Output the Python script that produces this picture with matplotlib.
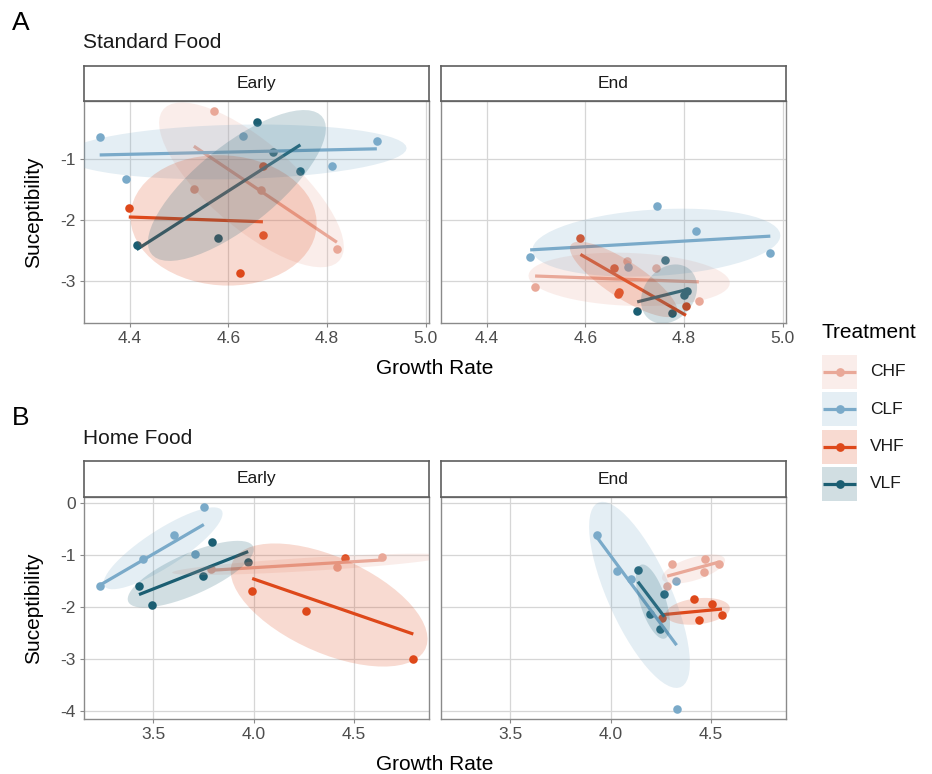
import numpy as np
import matplotlib
matplotlib.use("Agg")
import matplotlib.pyplot as plt
from matplotlib.patches import Polygon, Rectangle
from matplotlib.lines import Line2D

plt.rcParams["font.family"] = ["Liberation Sans", "DejaVu Sans"]
plt.rcParams["axes.unicode_minus"] = False

W, H = 932, 774

treatments = ["CHF", "CLF", "VHF", "VLF"]
palette = ["#E9A898", "#7AAAC9", "#DE481A", "#1B5E72"]

# Standard food, early sampling
std_early_x = {
    "CHF": [4.570, 4.530, 4.667, 4.820],
    "CLF": [4.339, 4.393, 4.629, 4.810, 4.901],
    "VHF": [4.398, 4.670, 4.623, 4.670],
    "VLF": [4.657, 4.691, 4.746, 4.414, 4.578],
}
std_early_y = {
    "CHF": [-0.22, -1.49, -1.52, -2.49],
    "CLF": [-0.65, -1.34, -0.63, -1.12, -0.71],
    "VHF": [-1.81, -2.25, -2.87, -1.12],
    "VLF": [-0.40, -0.89, -1.20, -2.41, -2.30],
}

# Standard food, end of experiment
std_end_x = {
    "CHF": [4.498, 4.684, 4.743, 4.830],
    "CLF": [4.488, 4.746, 4.825, 4.975, 4.686],
    "VHF": [4.590, 4.659, 4.669, 4.666, 4.804],
    "VLF": [4.761, 4.705, 4.775, 4.807, 4.800],
}
std_end_y = {
    "CHF": [-3.11, -2.68, -2.79, -3.34],
    "CLF": [-2.61, -1.78, -2.18, -2.55, -2.77],
    "VHF": [-2.30, -2.79, -3.18, -3.22, -3.41],
    "VLF": [-2.67, -3.50, -3.53, -3.17, -3.23],
}

# Home food, early sampling
home_early_x = {
    "CHF": [3.790, 4.414, 4.638],
    "CLF": [3.752, 3.603, 3.449, 3.708, 3.233],
    "VHF": [4.455, 3.993, 4.261, 4.796],
    "VLF": [3.794, 3.429, 3.492, 3.746, 3.973],
}
home_early_y = {
    "CHF": [-1.27, -1.24, -1.03],
    "CLF": [-0.08, -0.62, -1.08, -0.99, -1.59],
    "VHF": [-1.06, -1.70, -2.08, -3.01],
    "VLF": [-0.76, -1.59, -1.97, -1.40, -1.13],
}

# Home food, end of experiment
home_end_x = {
    "CHF": [4.307, 4.472, 4.467, 4.538, 4.282],
    "CLF": [3.930, 4.030, 4.103, 4.328, 4.329],
    "VHF": [4.414, 4.505, 4.555, 4.442, 4.255],
    "VLF": [4.136, 4.268, 4.195, 4.245],
}
home_end_y = {
    "CHF": [-1.18, -1.08, -1.33, -1.17, -1.59],
    "CLF": [-0.61, -1.30, -1.46, -1.51, -3.96],
    "VHF": [-1.84, -1.94, -2.16, -2.26, -2.22],
    "VLF": [-1.28, -1.76, -2.13, -2.42],
}

std_xticks = [4.4, 4.6, 4.8, 5.0]
std_yticks = [-1, -2, -3]
home_xticks = [3.5, 4.0, 4.5]
home_yticks = [0, -1, -2, -3, -4]

ELLIPSE_LEVEL = 0.55


def ellipse_path(x, y, level=ELLIPSE_LEVEL, segments=60):
    # normal-theory data ellipse around the group mean
    center = np.array([x.mean(), y.mean()])
    shape = np.cov(np.vstack([x, y]))
    m = len(x) - 1
    qf = m / 2 * ((1 - level) ** (-2 / m) - 1)  # F(2, m) quantile
    radius = np.sqrt(2 * qf)
    t = np.linspace(0, 2 * np.pi, segments + 1)
    circle = np.column_stack([np.cos(t), np.sin(t)])
    upper = np.linalg.cholesky(shape).T
    return center + radius * circle @ upper


def expanded(vals, frac=0.05):
    lo, hi = min(vals), max(vals)
    pad = (hi - lo) * frac
    return lo - pad, hi + pad


def rect(x0, y0, x1, y1):
    return [x0 / W, 1 - y1 / H, (x1 - x0) / W, (y1 - y0) / H]


def draw_panel(ax, xs, ys, xlim, ylim, xticks, yticks, show_y):
    for name, col in zip(treatments, palette):
        ax.scatter(xs[name], ys[name], s=38, color=col, linewidths=0, zorder=3)
    for name, col in zip(treatments, palette):
        x = np.array(xs[name])
        y = np.array(ys[name])
        slope, icpt = np.polyfit(x, y, 1)
        gx = np.array([x.min(), x.max()])
        ax.plot(gx, icpt + slope * gx, color=col, lw=2.3, solid_capstyle="butt", zorder=4)
    for name, col in zip(treatments, palette):
        ell = ellipse_path(np.array(xs[name]), np.array(ys[name]))
        ax.add_patch(Polygon(ell, closed=True, facecolor=col, alpha=0.2,
                             edgecolor="none", zorder=5))
    ax.set_xlim(xlim)
    ax.set_ylim(ylim)
    ax.set_xticks(xticks)
    ax.set_xticklabels([f"{v:.1f}" for v in xticks])
    ax.set_yticks(yticks)
    ax.set_yticklabels([f"{v:g}" for v in yticks])
    ax.set_axisbelow(True)
    ax.grid(color="#D6D6D6", lw=0.9)
    for sp in ax.spines.values():
        sp.set_color("#8A8A8A")
        sp.set_linewidth(1.0)
    ax.tick_params(axis="both", length=3, width=0.8, color="#8A8A8A",
                   labelsize=12.5, labelcolor="#4D4D4D", pad=3)
    if not show_y:
        ax.tick_params(axis="y", left=False, labelleft=False)


def draw_strip(fig, box, label):
    sax = fig.add_axes(rect(*box))
    sax.set_facecolor("white")
    sax.set_xticks([])
    sax.set_yticks([])
    for sp in sax.spines.values():
        sp.set_color("#5E5E5E")
        sp.set_linewidth(1.2)
    sax.text(0.5, 0.5, label, ha="center", va="center", fontsize=12.5, color="#1A1A1A",
             transform=sax.transAxes)


fig = plt.figure(figsize=(W / 100, H / 100), dpi=100)
fig.patch.set_facecolor("white")

rows = [
    ("A", "Standard Food", 66, 101, 323, std_early_x, std_early_y, std_end_x, std_end_y,
     std_xticks, std_yticks),
    ("B", "Home Food", 461, 497, 719, home_early_x, home_early_y, home_end_x, home_end_y,
     home_xticks, home_yticks),
]
cols = [(84, 429, "Early"), (441, 786, "End")]

for tag, title, strip_top, top, bottom, ex, ey, nx, ny, xt, yt in rows:
    all_x = sum(ex.values(), []) + sum(nx.values(), [])
    all_y = sum(ey.values(), []) + sum(ny.values(), [])
    xlim = expanded(all_x)
    ylim = expanded(all_y)
    for (x0, x1, facet), xs, ys in zip(cols, [ex, nx], [ey, ny]):
        ax = fig.add_axes(rect(x0, top, x1, bottom))
        draw_panel(ax, xs, ys, xlim, ylim, xt, yt, show_y=(facet == "Early"))
        draw_strip(fig, (x0, strip_top, x1, top), facet)
    fig.text(12 / W, 1 - (strip_top - 43) / H, tag, fontsize=19, ha="left", va="center")
    fig.text(83 / W, 1 - (strip_top - 23) / H, title, fontsize=15, ha="left", va="center",
             color="#1A1A1A")
    fig.text(435 / W, 1 - (bottom + 45) / H, "Growth Rate", fontsize=15, ha="center",
             va="center")
    fig.text(34 / W, 1 - ((top + bottom) / 2) / H, "Suceptibility", fontsize=15,
             rotation=90, ha="center", va="center")

# legend drawn in figure pixel space
lax = fig.add_axes([0, 0, 1, 1], facecolor="none")
lax.set_xlim(0, W)
lax.set_ylim(H, 0)
lax.axis("off")
lax.text(821, 333, "Treatment", fontsize=15, ha="left", va="center")
for i, (name, col) in enumerate(zip(treatments, palette)):
    y0 = 355 + i * 37.3
    lax.add_patch(Rectangle((822, y0), 35, 34, facecolor=col, alpha=0.2, edgecolor="none"))
    cy = y0 + 17
    lax.add_line(Line2D([823, 856], [cy, cy], color=col, lw=2.3, solid_capstyle="butt"))
    lax.add_line(Line2D([839.5], [cy], color=col, marker="o", markersize=6.3,
                        markeredgewidth=0))
    lax.text(870, cy, name, fontsize=12.5, ha="left", va="center", color="#1A1A1A")

fig.savefig("out.png", dpi=100)
